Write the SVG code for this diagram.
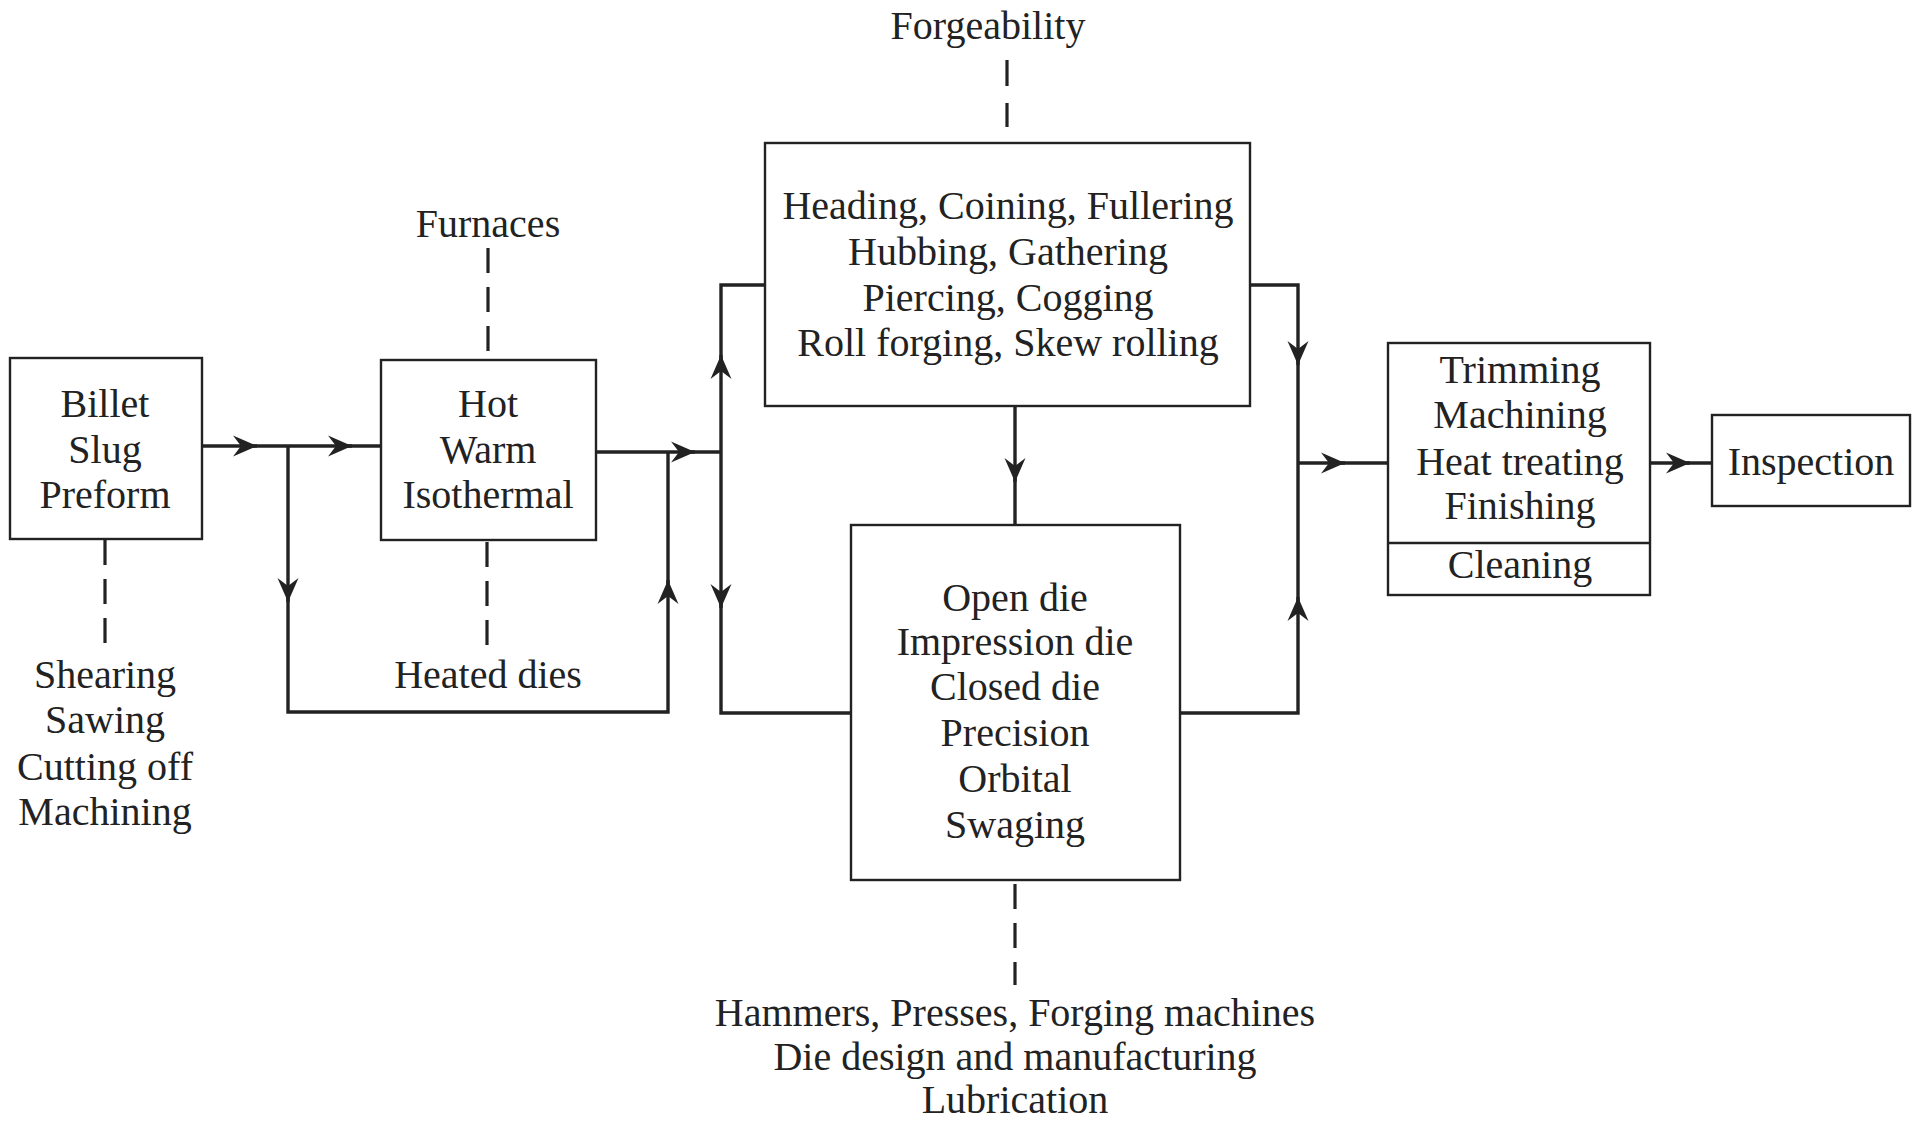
<svg xmlns="http://www.w3.org/2000/svg" width="1914" height="1128" viewBox="0 0 1914 1128">
<style>
.box{fill:none;stroke:#222;stroke-width:2.4}
.ln{fill:none;stroke:#222;stroke-width:3.4;stroke-linejoin:miter}
.dash{fill:none;stroke:#222;stroke-width:3.2;stroke-dasharray:25 14}
.arr{fill:none;stroke:#222;stroke-width:3.4;marker-end:url(#ah)}
text{font-family:"Liberation Serif","Times New Roman",serif;font-size:40px;fill:#222;text-anchor:middle}
</style>
<defs>
<marker id="ah" markerUnits="userSpaceOnUse" markerWidth="32" markerHeight="32" viewBox="-28 -14 32 28" refX="0" refY="0" orient="auto">
<path d="M0,0 L-24,-10.5 L-16,0 L-24,10.5 Z" fill="#222"/>
</marker>
</defs>
<rect width="1914" height="1128" fill="#fff"/>

<g id="connectors">
<path class="ln" d="M202,446 H381"/>
<path class="ln" d="M288,446 V712 H668 V452"/>
<path class="ln" d="M596,452 H721"/>
<path class="ln" d="M765,285 H721 V713 H851"/>
<path class="ln" d="M1015,406 V525"/>
<path class="ln" d="M1250,285 H1298 V713 H1180"/>
<path class="ln" d="M1298,463 H1388"/>
<path class="ln" d="M1650,463 H1712"/>
<path class="arr" d="M250,446 H257"/>
<path class="arr" d="M345,446 H352"/>
<path class="arr" d="M288,592 V602"/>
<path class="arr" d="M668,590 V580"/>
<path class="arr" d="M688,452 H695"/>
<path class="arr" d="M721,365 V355"/>
<path class="arr" d="M721,598 V608"/>
<path class="arr" d="M1015,472 V482"/>
<path class="arr" d="M1298,355 V365"/>
<path class="arr" d="M1298,607 V597"/>
<path class="arr" d="M1338,463 H1345"/>
<path class="arr" d="M1683,463 H1690"/>
<path class="dash" d="M1007,60 V127" style="stroke-dasharray:26 17"/>
<path class="dash" d="M488,248 V358"/>
<path class="dash" d="M105,540 V650"/>
<path class="dash" d="M487,542 V647"/>
<path class="dash" d="M1015,884 V985"/>
</g>

<g id="billet">
<rect class="box" x="10" y="358" width="192" height="181"/>
<text x="105" y="417">Billet</text>
<text x="105" y="463">Slug</text>
<text x="105" y="508">Preform</text>
</g>

<g id="cutting">
<text x="105" y="688">Shearing</text>
<text x="105" y="733">Sawing</text>
<text x="105" y="780">Cutting off</text>
<text x="105" y="825">Machining</text>
</g>

<g id="heating">
<rect class="box" x="381" y="360" width="215" height="180"/>
<text x="488" y="417">Hot</text>
<text x="488" y="463">Warm</text>
<text x="488" y="508">Isothermal</text>
</g>

<g id="furnaces"><text x="488" y="237">Furnaces</text></g>
<g id="heated-dies"><text x="488" y="688">Heated dies</text></g>
<g id="forgeability"><text x="988" y="39">Forgeability</text></g>

<g id="operations">
<rect class="box" x="765" y="143" width="485" height="263"/>
<text x="1008" y="219">Heading, Coining, Fullering</text>
<text x="1008" y="265">Hubbing, Gathering</text>
<text x="1008" y="311">Piercing, Cogging</text>
<text x="1008" y="356">Roll forging, Skew rolling</text>
</g>

<g id="die-types">
<rect class="box" x="851" y="525" width="329" height="355"/>
<text x="1015" y="611">Open die</text>
<text x="1015" y="655">Impression die</text>
<text x="1015" y="700">Closed die</text>
<text x="1015" y="746">Precision</text>
<text x="1015" y="792">Orbital</text>
<text x="1015" y="838">Swaging</text>
</g>

<g id="equipment">
<text x="1015" y="1026">Hammers, Presses, Forging machines</text>
<text x="1015" y="1070">Die design and manufacturing</text>
<text x="1015" y="1113">Lubrication</text>
</g>

<g id="finishing">
<rect class="box" x="1388" y="343" width="262" height="252"/>
<line class="box" x1="1388" y1="543" x2="1650" y2="543"/>
<text x="1520" y="383">Trimming</text>
<text x="1520" y="428">Machining</text>
<text x="1520" y="475">Heat treating</text>
<text x="1520" y="519">Finishing</text>
<text x="1520" y="578">Cleaning</text>
</g>

<g id="inspection">
<rect class="box" x="1712" y="415" width="198" height="91"/>
<text x="1811" y="475">Inspection</text>
</g>
</svg>
